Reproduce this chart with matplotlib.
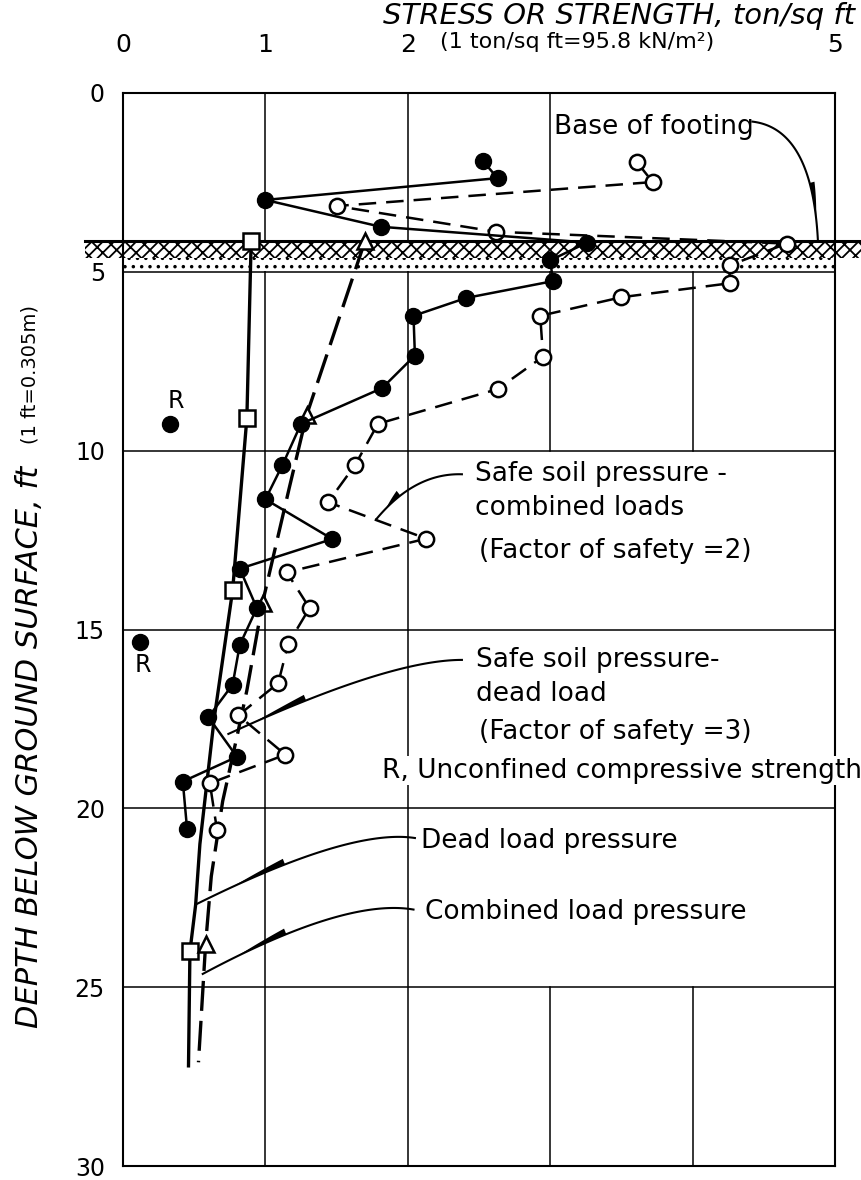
import numpy as np
import matplotlib
matplotlib.use("Agg")
import matplotlib.pyplot as plt
from matplotlib.patches import Polygon

plt.rcParams['font.family'] = ['DejaVu Sans']
plt.rcParams['hatch.linewidth'] = 1.3

# Safe soil pressure, dead load (factor of safety = 3) - filled circles
fs3_x = [2.53, 2.63, 1.00, 1.81, 3.26, 3.00, 3.02, 2.41, 2.04, 2.05, 1.82, 1.25,
         1.12, 1.00, 1.47, 0.82, 0.94, 0.82, 0.77, 0.60, 0.80, 0.42, 0.45]
fs3_d = [1.91, 2.38, 2.99, 3.74, 4.18, 4.68, 5.26, 5.73, 6.23, 7.34, 8.25, 9.25,
         10.40, 11.36, 12.47, 13.30, 14.40, 15.43, 16.54, 17.45, 18.56, 19.25, 20.58]

# Safe soil pressure, combined loads (factor of safety = 2) - open circles
fs2_x = [3.61, 3.72, 1.50, 2.62, 4.66, 4.26, 4.26, 3.50, 2.93, 2.95, 2.63, 1.79,
         1.63, 1.44, 2.13, 1.15, 1.31, 1.16, 1.09, 0.81, 1.14, 0.61, 0.66]
fs2_d = [1.94, 2.49, 3.16, 3.88, 4.21, 4.82, 5.32, 5.71, 6.23, 7.37, 8.28, 9.25,
         10.40, 11.44, 12.46, 13.40, 14.40, 15.40, 16.50, 17.40, 18.50, 19.30, 20.60]

# Dead load pressure below the footing - squares at the computed depths
dead_x = [0.90, 0.87, 0.77, 0.64, 0.54, 0.51, 0.47, 0.46]
dead_d = [4.13, 9.08, 13.90, 17.50, 21.00, 22.70, 24.00, 27.20]
dead_marks = [0, 1, 2, 6]

# Combined load pressure below the footing - triangles at the computed depths
comb_x = [1.70, 1.29, 1.17, 0.98, 0.87, 0.80, 0.70, 0.62, 0.58, 0.53]
comb_d = [4.13, 9.00, 11.00, 14.25, 16.70, 18.00, 19.80, 21.90, 23.80, 27.10]
comb_marks = [0, 1, 3, 8]

# Unconfined compressive strength
r_x = [0.33, 0.12]
r_d = [9.25, 15.35]

footing_depth = 4.13
x_ticks = [0, 1, 2, 3, 4, 5]
x_tick_labels = ['0', '1', '2', '', '', '5']
y_ticks = [0, 5, 10, 15, 20, 25, 30]
y_tick_labels = ['0', '5', '10', '15', '20', '25', '30']

W, H = 861, 1180
fig = plt.figure(figsize=(W / 100, H / 100), dpi=100)
ax = fig.add_axes([123 / W, 1 - 1166 / H, (835 - 123) / W, (1166 - 93) / H])
ax.set_xlim(0, 5)
ax.set_ylim(30, 0)

ax.xaxis.tick_top()
ax.set_xticks(x_ticks)
ax.set_xticklabels(x_tick_labels, fontsize=18)
ax.set_yticks(y_ticks)
ax.set_yticklabels(y_tick_labels, fontsize=17)
ax.tick_params(axis='x', length=0, pad=26)
ax.tick_params(axis='y', length=0, pad=13)
for s in ax.spines.values():
    s.set_linewidth(1.5)

# grid: some cells are left open for the labels
grid_v = {1: [(0, 30)], 2: [(0, 30)], 3: [(0, 10), (25, 30)], 4: [(5, 10), (25, 30)]}
for xv, spans in grid_v.items():
    for y0, y1 in spans:
        ax.plot([xv, xv], [y0, y1], color='k', lw=1.1, zorder=1)
for yv in [5, 10, 15, 20, 25]:
    ax.plot([0, 5], [yv, yv], color='k', lw=1.1, zorder=1)

# soil symbol below the footing base
ax.fill_between([-0.27, 5.18], footing_depth, 4.6, facecolor='white', edgecolor='k',
                hatch='///\\\\', linewidth=0, clip_on=False, zorder=1.5)
ax.fill_between([0, 5.0], 4.6, 4.97, facecolor='white', edgecolor='k',
                hatch='..', linewidth=0, clip_on=False, zorder=1.5)
ax.plot([-0.27, 5.18], [footing_depth, footing_depth], color='k', lw=2.2,
        clip_on=False, zorder=2)

# pressure curves
ax.plot(dead_x, dead_d, color='k', lw=2.4, marker='s', ms=12, mfc='white', mec='k',
        mew=1.8, markevery=dead_marks, zorder=3)
ax.plot(comb_x, comb_d, color='k', lw=2.4, ls=(0, (9, 3)), marker='^', ms=12,
        mfc='white', mec='k', mew=1.8, markevery=comb_marks, zorder=3)

# safe soil pressure profiles
ax.plot(fs2_x, fs2_d, color='k', lw=1.8, ls=(0, (7, 4)), marker='o', ms=11,
        mfc='white', mec='k', mew=1.8, zorder=4)
ax.plot(fs3_x, fs3_d, color='k', lw=1.8, marker='o', ms=11.5, mfc='k', mec='k', zorder=5)

ax.plot(r_x, r_d, 'o', color='k', ms=11.5, zorder=5)
ax.text(0.37, 8.62, 'R', ha='center', va='center', fontsize=17)
ax.text(0.14, 16.0, 'R', ha='center', va='center', fontsize=17)


def leader(start, end, ctrl, wedge=(0.45, 0.7), width=6, side=1):
    to_px = ax.transData.transform
    to_data = ax.transData.inverted().transform
    p0, p1, pc = to_px(start), to_px(end), to_px(ctrl)
    t = np.linspace(0, 1, 80)[:, None]
    curve = (1 - t) ** 2 * p0 + 2 * (1 - t) * t * pc + t ** 2 * p1
    ax.plot(*to_data(curve).T, color='k', lw=1.5, clip_on=False, zorder=6)
    tw = np.linspace(wedge[0], wedge[1], 30)[:, None]
    pts = (1 - tw) ** 2 * p0 + 2 * (1 - tw) * tw * pc + tw ** 2 * p1
    tang = 2 * (1 - tw) * (pc - p0) + 2 * tw * (p1 - pc)
    nrm = np.column_stack([-tang[:, 1], tang[:, 0]])
    nrm /= np.linalg.norm(nrm, axis=1)[:, None]
    w = width * (wedge[1] - tw) / (wedge[1] - wedge[0])
    poly = np.vstack([pts, (pts + side * nrm * w)[::-1]])
    ax.add_patch(Polygon(to_data(poly), closed=True, facecolor='k', lw=0,
                         clip_on=False, zorder=6))


txt = dict(fontsize=19, va='center', ha='left', zorder=7)

ax.text(3.03, 0.94, 'Base of footing', **txt)
leader((4.42, 0.80), (4.88, footing_depth), (4.84, 1.0), wedge=(0.7, 0.9), width=5, side=1)

ax.text(2.47, 10.66, 'Safe soil pressure -', **txt)
ax.text(2.47, 11.60, 'combined loads', **txt)
ax.text(2.50, 12.80, '(Factor of safety =2)', **txt)
leader((2.38, 10.66), (1.78, 11.91), (2.05, 10.62), wedge=(0.7, 0.88), width=6, side=-1)

ax.text(2.48, 15.85, 'Safe soil pressure-', **txt)
ax.text(2.48, 16.80, 'dead load', **txt)
ax.text(2.50, 17.87, '(Factor of safety =3)', **txt)
leader((2.38, 15.85), (0.74, 17.92), (1.87, 15.85), wedge=(0.74, 0.92), width=6, side=-1)

ax.text(1.82, 18.95, 'R, Unconfined compressive strength', clip_on=False,
        bbox=dict(facecolor='white', edgecolor='none', pad=1), **txt)

ax.text(2.09, 20.90, 'Dead load pressure', **txt)
leader((2.05, 20.83), (0.51, 22.69), (1.59, 20.55), wedge=(0.68, 0.88), width=6, side=-1)

ax.text(2.12, 22.90, 'Combined load pressure', **txt)
leader((2.04, 22.83), (0.56, 24.63), (1.56, 22.50), wedge=(0.68, 0.88), width=6, side=-1)

# axis titles
fig.text(855 / W, 1 - 16 / H, 'STRESS OR STRENGTH, ton/sq ft', ha='right', va='center',
         fontsize=21, style='italic')
fig.text(577 / W, 1 - 42 / H, '(1 ton/sq ft=95.8 kN/m²)', ha='center', va='center',
         fontsize=16)
fig.text(30 / W, 1 - 747 / H, 'DEPTH BELOW GROUND SURFACE, ft', rotation=90,
         ha='center', va='center', fontsize=22, style='italic')
fig.text(30 / W, 1 - 375 / H, '(1 ft=0.305m)', rotation=90,
         ha='center', va='center', fontsize=14)

fig.savefig('out.png', dpi=100)
